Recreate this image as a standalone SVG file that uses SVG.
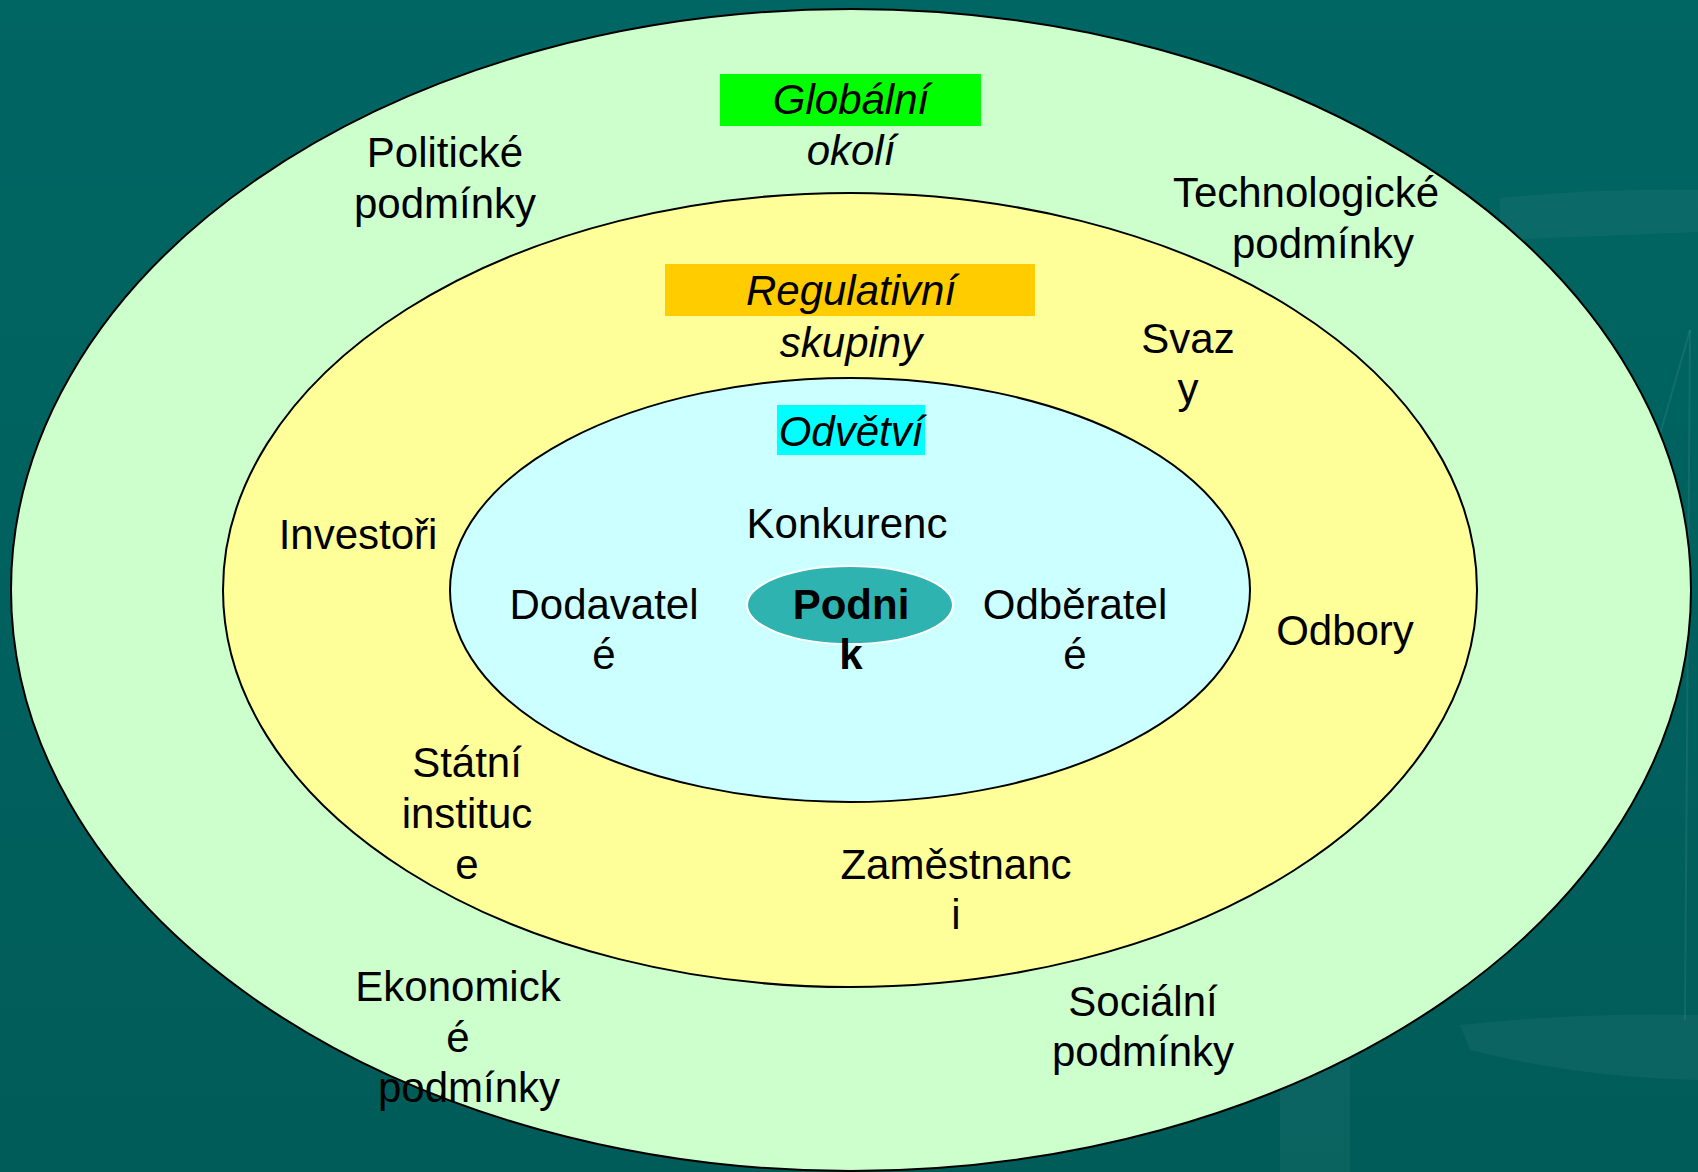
<svg xmlns="http://www.w3.org/2000/svg" width="1698" height="1172" viewBox="0 0 1698 1172">
<style>
.t{font-family:"Liberation Sans",Arial,sans-serif;font-size:42px;fill:#000;text-anchor:middle}
.i{font-style:italic}
.b{font-weight:bold}
.ring{stroke:#000;stroke-width:2}
.deco{fill:#FFFFFF;opacity:0.045}
</style>
<defs>
<linearGradient id="bg" x1="0" y1="0" x2="0" y2="1">
<stop offset="0" stop-color="#006663"/>
<stop offset="1" stop-color="#005C59"/>
</linearGradient>
</defs>
<rect width="1698" height="1172" fill="url(#bg)"/>
<g id="decoration">
<path class="deco" d="M1500 198 Q1600 188 1698 190 L1698 232 Q1600 236 1500 240 Z"/>
<path class="deco" d="M1460 1025 Q1580 1012 1698 1015 L1698 1080 Q1580 1078 1470 1050 Z"/>
<rect class="deco" x="1280" y="1060" width="70" height="112"/>
<line x1="1520" y1="920" x2="1690" y2="330" stroke="#FFFFFF" stroke-opacity="0.07" stroke-width="2"/>
<line x1="1690" y1="330" x2="1685" y2="1020" stroke="#FFFFFF" stroke-opacity="0.07" stroke-width="2"/>
</g>
<g id="globalni-okoli">
<ellipse class="ring" cx="851" cy="590" rx="840" ry="581" fill="#CCFFCC"/>
</g>
<g id="regulativni-skupiny">
<ellipse class="ring" cx="850" cy="590" rx="627" ry="397" fill="#FFFF99"/>
</g>
<g id="odvetvi">
<ellipse class="ring" cx="850" cy="590" rx="400" ry="212" fill="#CCFFFF"/>
</g>
<g id="podnik">
<ellipse cx="850" cy="605" rx="103" ry="39" fill="#2EB3B0" stroke="#FFFFFF" stroke-width="2"/>
<text class="t b" x="851" y="619">Podni</text>
<text class="t b" x="851" y="669">k</text>
</g>
<g id="connectors"></g>
<g id="label-globalni">
<rect x="720" y="74" width="261" height="52" fill="#00FF00"/>
<text class="t i" x="851" y="114">Globální</text>
<text class="t i" x="851" y="165">okolí</text>
</g>
<g id="label-regulativni">
<rect x="665" y="264" width="370" height="52" fill="#FFCC00"/>
<text class="t i" x="851" y="305">Regulativní</text>
<text class="t i" x="851" y="357">skupiny</text>
</g>
<g id="label-odvetvi">
<rect x="777" y="405" width="148" height="50" fill="#00FFFF"/>
<text class="t i" x="851" y="446">Odvětví</text>
</g>
<g id="politicke">
<text class="t" x="445" y="167">Politické</text>
<text class="t" x="445" y="218">podmínky</text>
</g>
<g id="technologicke">
<text class="t" x="1306" y="207">Technologické</text>
<text class="t" x="1323" y="258">podmínky</text>
</g>
<g id="svazy">
<text class="t" x="1188" y="353">Svaz</text>
<text class="t" x="1188" y="403">y</text>
</g>
<g id="investori">
<text class="t" x="358" y="549">Investoři</text>
</g>
<g id="konkurence">
<text class="t" x="847" y="538">Konkurenc</text>
</g>
<g id="dodavatele">
<text class="t" x="604" y="619">Dodavatel</text>
<text class="t" x="604" y="669">é</text>
</g>
<g id="odberatele">
<text class="t" x="1075" y="619">Odběratel</text>
<text class="t" x="1075" y="669">é</text>
</g>
<g id="odbory">
<text class="t" x="1345" y="645">Odbory</text>
</g>
<g id="statni-instituce">
<text class="t" x="467" y="777">Státní</text>
<text class="t" x="467" y="828">instituc</text>
<text class="t" x="467" y="879">e</text>
</g>
<g id="zamestnanci">
<text class="t" x="956" y="879">Zaměstnanc</text>
<text class="t" x="956" y="929">i</text>
</g>
<g id="ekonomicke">
<text class="t" x="458" y="1001">Ekonomick</text>
<text class="t" x="458" y="1052">é</text>
<text class="t" x="469" y="1102">podmínky</text>
</g>
<g id="socialni">
<text class="t" x="1143" y="1016">Sociální</text>
<text class="t" x="1143" y="1066">podmínky</text>
</g>
</svg>
